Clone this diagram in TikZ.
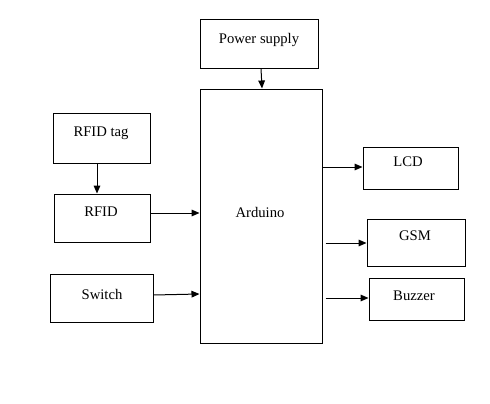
\documentclass[tikz,border=0pt]{standalone}
\usepackage{fontspec}
\setmainfont{Liberation Serif}
\usetikzlibrary{arrows.meta}
\begin{document}
\begin{tikzpicture}[x=0.75pt,y=-0.75pt,
  box/.style={draw,line width=0.75pt,inner sep=0pt},
  lbl/.style={font=\rmfamily\fontsize{11}{13}\selectfont,inner sep=0pt},
  arr/.style={line width=0.75pt,-{Triangle[length=6pt,width=5pt]}}]
\useasboundingbox[fill=white] (0,0) rectangle (490,404);
\node[box,minimum width=118*0.75pt,minimum height=49*0.75pt] (ps) at (259,43.5) {};
\node[box,minimum width=122*0.75pt,minimum height=254*0.75pt] (ard) at (261,216) {};
\node[box,minimum width=97*0.75pt,minimum height=50*0.75pt] (tag) at (101.5,138) {};
\node[box,minimum width=96*0.75pt,minimum height=48*0.75pt] (rfid) at (102,218) {};
\node[box,minimum width=103*0.75pt,minimum height=48*0.75pt] (sw) at (101.5,298) {};
\node[box,minimum width=95*0.75pt,minimum height=42*0.75pt] (lcd) at (410.5,168) {};
\node[box,minimum width=98*0.75pt,minimum height=47*0.75pt] (gsm) at (416,242.5) {};
\node[box,minimum width=95*0.75pt,minimum height=42*0.75pt] (bz) at (416.5,299) {};
\node[lbl] (tps) at (259,40) {Power supply};
\node[lbl] (tard) at (260,212) {Arduino};
\node[lbl] (ttag) at (101,133) {RFID tag};
\node[lbl] (trfid) at (101,212) {RFID};
\node[lbl] (tsw) at (102,294) {Switch};
\node[lbl] (tlcd) at (408,162) {LCD};
\node[lbl] (tgsm) at (415,236) {GSM};
\node[lbl] (tbz) at (414,296) {Buzzer};
\draw[arr] (ps.south -| 261,0) -- (ard.north -| 262,0);
\draw[arr] (tag.south -| 97,0) -- (rfid.north -| 97,0);
\draw[arr] (rfid.east |- 0,213) -- (ard.west |- 0,213);
\draw[arr] (sw.east |- 0,295) -- (ard.west |- 0,294);
\draw[arr] (ard.east |- 0,167) -- (lcd.west |- 0,167);
\draw[arr] (ard.east |- 0,243) ++(3,0) -- (gsm.west |- 0,243);
\draw[arr] (ard.east |- 0,298) ++(3,0) -- (bz.west |- 0,298);
\end{tikzpicture}
\end{document}
